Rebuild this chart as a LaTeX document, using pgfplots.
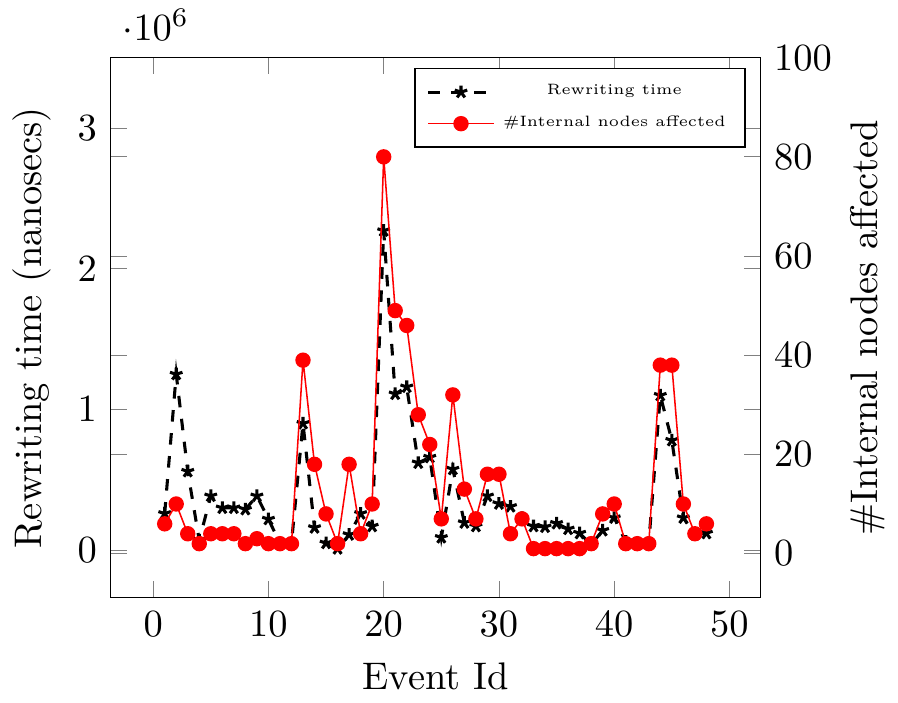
\documentclass[border=0pt]{standalone}
\usepackage{pgfplots}
\pgfplotsset{compat=1.18}
\begin{document}
\begin{tikzpicture}
\pgfplotsset{
  common/.style={
    scale only axis, width=169pt, height=140.4pt,
    xmin=-3.7, xmax=52.7,
  }
}
\begin{axis}[
  common,
  ymin=-0.338e6, ymax=3.5e6,
  ytick={0,1e6,2e6,3e6},
  xlabel={Event Id},
  ylabel={Rewriting time (nanosecs)},
]
\addplot[black, dashed, thick, mark=star, mark size=1.7pt] coordinates {
(1,0.26e6) (2,1.25e6) (3,0.56e6) (4,0.07e6) (5,0.385e6) (6,0.30e6) (7,0.30e6) (8,0.29e6)
(9,0.385e6) (10,0.22e6) (11,0.05e6) (12,0.05e6) (13,0.90e6) (14,0.16e6) (15,0.05e6) (16,0.011e6)
(17,0.11e6) (18,0.26e6) (19,0.17e6) (20,2.27e6) (21,1.11e6) (22,1.16e6) (23,0.62e6) (24,0.66e6)
(25,0.09e6) (26,0.575e6) (27,0.195e6) (28,0.17e6) (29,0.385e6) (30,0.33e6) (31,0.31e6) (32,0.23e6)
(33,0.17e6) (34,0.165e6) (35,0.19e6) (36,0.15e6) (37,0.12e6) (38,0.04e6) (39,0.14e6) (40,0.23e6)
(41,0.06e6) (42,0.05e6) (43,0.05e6) (44,1.10e6) (45,0.78e6) (46,0.23e6) (47,0.11e6) (48,0.12e6)
};
\coordinate (tl) at (rel axis cs:0,1);
\coordinate (br) at (rel axis cs:1,0);
\end{axis}
\begin{axis}[
  common,
  ymin=-8.9, ymax=100,
  ytick={0,20,...,100},
  yticklabel pos=right,
  ylabel near ticks,
  ylabel shift=-2pt,
  ylabel={\#Internal nodes affected},
  xticklabels={},
  legend style={font=\fontsize{3.9}{4.7}\selectfont, legend cell align=center,
    at={(0.977,0.981)}, anchor=north east},
]
\addlegendimage{black, dashed, thick, mark=star, mark size=1.7pt}
\addlegendentry{Rewriting time}
\addplot[red, mark=*, mark size=1.8pt] coordinates {
(1,6) (2,10) (3,4) (4,2) (5,4) (6,4) (7,4) (8,2) (9,3) (10,2) (11,2) (12,2)
(13,39) (14,18) (15,8) (16,2) (17,18) (18,4) (19,10) (20,80) (21,49) (22,46) (23,28) (24,22)
(25,7) (26,32) (27,13) (28,7) (29,16) (30,16) (31,4) (32,7) (33,1) (34,1) (35,1) (36,1)
(37,1) (38,2) (39,8) (40,10) (41,2) (42,2) (43,2) (44,38) (45,38) (46,10) (47,4) (48,6)
};
\addlegendentry{\#Internal nodes affected}
\end{axis}
\path ([shift={(-28.6pt,15pt)}]tl) rectangle ([shift={(35.5pt,-26pt)}]br);
\end{tikzpicture}
\end{document}
